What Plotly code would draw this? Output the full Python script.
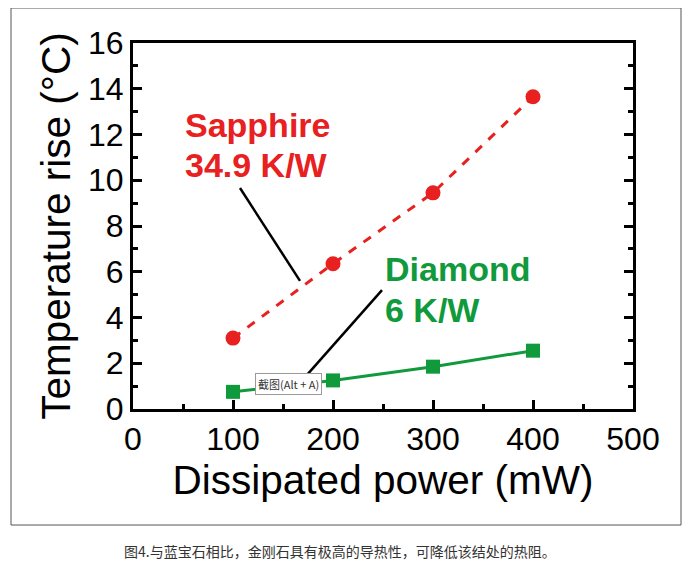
import plotly.graph_objects as go

power = [100, 200, 300, 400]
sapphire = [3.1, 6.35, 9.45, 13.65]
diamond = [0.75, 1.25, 1.85, 2.55]

x_ticks = [0, 100, 200, 300, 400, 500]
y_ticks = [0, 2, 4, 6, 8, 10, 12, 14, 16]

sapphire_lines = ["Sapphire", "34.9 K/W"]
sapphire_label_y = [12.42, 10.67]
diamond_lines = ["Diamond", "6 K/W"]
diamond_label_y = [6.12, 4.33]
sapphire_pointer_x = [107, 167]
sapphire_pointer_y = [9.66, 5.6]
diamond_pointer_x = [249, 174]
diamond_pointer_y = [5.2, 1.49]
caption = "图4.与蓝宝石相比，金刚石具有极高的导热性，可降低该结处的热阻。"
tooltip = "截图(Alt + A)"

RED = "#e8201f"
GREEN = "#109a3c"
FONT = "Liberation Sans, Arial, sans-serif"

fig = go.Figure()
fig.add_trace(go.Scatter(x=power, y=sapphire, mode="lines+markers",
                         line=dict(color=RED, width=3, dash="dash"),
                         marker=dict(color=RED, size=15, symbol="circle"),
                         showlegend=False))
fig.add_trace(go.Scatter(x=power, y=diamond, mode="lines+markers",
                         line=dict(color=GREEN, width=3),
                         marker=dict(color=GREEN, size=14, symbol="square"),
                         showlegend=False))

fig.add_trace(go.Scatter(x=sapphire_pointer_x, y=sapphire_pointer_y, mode="lines",
                         line=dict(color="black", width=2.5), showlegend=False, hoverinfo="skip"))
fig.add_trace(go.Scatter(x=diamond_pointer_x, y=diamond_pointer_y, mode="lines",
                         line=dict(color="black", width=2.5), showlegend=False, hoverinfo="skip"))

for txt, yy in zip(sapphire_lines, sapphire_label_y):
    fig.add_annotation(x=50, y=yy, xref="x", yref="y", text="<b>" + txt + "</b>",
                       showarrow=False, xanchor="left", yanchor="middle", align="left",
                       font=dict(family=FONT, size=34, color=RED))
for txt, yy in zip(diamond_lines, diamond_label_y):
    fig.add_annotation(x=250, y=yy, xref="x", yref="y", text="<b>" + txt + "</b>",
                       showarrow=False, xanchor="left", yanchor="middle", align="left",
                       font=dict(family=FONT, size=34, color=GREEN))

fig.add_annotation(x=155, y=1.08, xref="x", yref="y", text=tooltip, showarrow=False,
                   font=dict(family="Noto Sans CJK SC, sans-serif", size=11, color="#333"),
                   bgcolor="white", bordercolor="#999", borderwidth=1, borderpad=2)

fig.add_annotation(x=0.414, y=-0.42, xref="paper", yref="paper", text=caption, showarrow=False,
                   font=dict(family="Noto Sans CJK SC, sans-serif", size=14, color="#333"))

fig.add_shape(type="rect", xref="paper", yref="paper", x0=-0.244, x1=1.096, y0=-0.317, y1=1.0956,
              line=dict(color="#555", width=1), layer="below")

axis_common = dict(showline=True, linecolor="black", linewidth=3, ticks="inside",
                   tickwidth=3, ticklen=9, tickcolor="black", showgrid=False, zeroline=False,
                   automargin=False,
                   tickfont=dict(family=FONT, size=32, color="black"))

fig.update_xaxes(range=[0, 500], tickvals=x_ticks, mirror=True,
                 minor=dict(dtick=50, ticks="inside", ticklen=5, tickwidth=3, tickcolor="black"),
                 title=dict(text="Dissipated power (mW)", font=dict(family=FONT, size=40.5, color="black"),
                            standoff=5),
                 **axis_common)
fig.update_yaxes(range=[0, 16], tickvals=y_ticks, mirror="ticks",
                 minor=dict(dtick=1, ticks="inside", ticklen=5, tickwidth=3, tickcolor="black"),
                 title=dict(text="Temperature rise (°C)", font=dict(family=FONT, size=40.5, color="black"),
                            standoff=5),
                 **axis_common)

# page body has an 8px margin, so the plot area is offset accordingly
fig.update_layout(width=699, height=569, margin=dict(l=125, r=74, t=35, b=168),
                  plot_bgcolor="white", paper_bgcolor="white")

fig.write_html("out.html")
